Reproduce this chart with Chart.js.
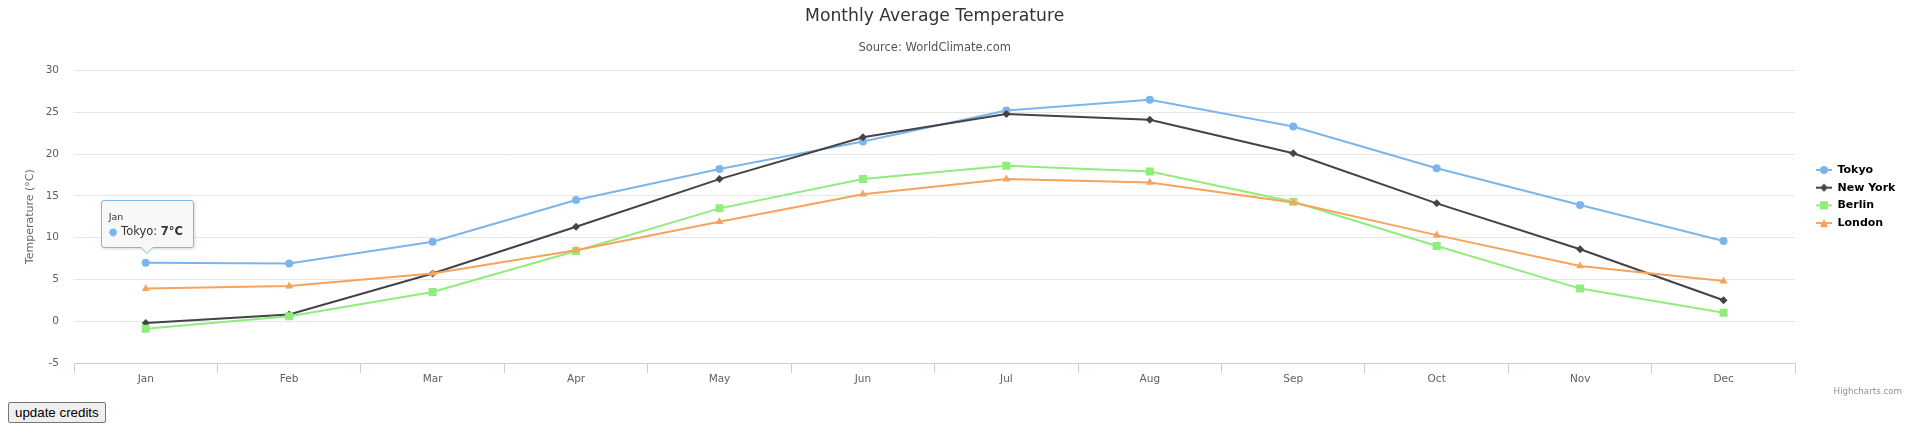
<!DOCTYPE html>
<html>
<head>
<meta charset="utf-8">
<title>Monthly Average Temperature</title>
<script src="https://cdn.jsdelivr.net/npm/chart.js@4.4.1/dist/chart.umd.min.js"></script>
<style>
  html, body { margin: 0; padding: 0; background: #fff; }
  #wrap { position: relative; width: 1909px; height: 437px; overflow: hidden; }
  #chart { position: absolute; left: 0; top: 0; }
  #credits {
    position: absolute; right: 7px; top: 386px;
    font: 8.7px 'DejaVu Sans', sans-serif; color: #909090; line-height: 11px;
  }
  #update {
    position: absolute; left: 8px; top: 402px; height: 21px;
    font: 13.33px 'Liberation Sans', Arial, sans-serif; color: #000;
    background: #efefef; border: 1px solid #767676; border-radius: 2px; padding: 1px 6px;
  }
  #tip {
    position: absolute; box-sizing: border-box; height: 48px;
    padding: 9px 10px 8px 7px; white-space: nowrap;
    background: rgba(247, 247, 247, 0.85); border: 1px solid #7cb5ec; border-radius: 3px;
    box-shadow: 1px 1px 3px rgba(0, 0, 0, 0.15);
    font-family: 'DejaVu Sans', sans-serif; color: #333;
  }
  #tip .head { display: block; font-size: 9.5px; line-height: 13px; }
  #tip .row { display: block; font-size: 11.5px; line-height: 16px; }
  #tip .dot { color: #7cb5ec; font-size: 10px; }
  #tip:before {
    content: ''; position: absolute; left: 50%; bottom: -7px; margin-left: -7px;
    border-style: solid; border-width: 7px 7px 0; border-color: #7cb5ec transparent transparent;
  }
  #tip:after {
    content: ''; position: absolute; left: 50%; bottom: -6px; margin-left: -6px;
    border-style: solid; border-width: 6px 6px 0; border-color: #f7f7f7 transparent transparent;
  }
</style>
</head>
<body>
<div id="wrap">
  <canvas id="chart" width="1909" height="400"></canvas>
  <div id="tip"></div>
  <div id="credits">Highcharts.com</div>
  <button id="update">update credits</button>
</div>
<script>
const months = ['Jan', 'Feb', 'Mar', 'Apr', 'May', 'Jun', 'Jul', 'Aug', 'Sep', 'Oct', 'Nov', 'Dec'];
const tokyo = [7.0, 6.9, 9.5, 14.5, 18.2, 21.5, 25.2, 26.5, 23.3, 18.3, 13.9, 9.6];
const newYork = [-0.2, 0.8, 5.7, 11.3, 17.0, 22.0, 24.8, 24.1, 20.1, 14.1, 8.6, 2.5];
const berlin = [-0.9, 0.6, 3.5, 8.4, 13.5, 17.0, 18.6, 17.9, 14.3, 9.0, 3.9, 1.0];
const london = [3.9, 4.2, 5.7, 8.5, 11.9, 15.2, 17.0, 16.6, 14.2, 10.3, 6.6, 4.8];
const seriesNames = ['Tokyo', 'New York', 'Berlin', 'London'];
const yMin = -5;
const yMax = 30;
const yStep = 5;

const colors = ['#7cb5ec', '#434348', '#90ed7d', '#f7a35c'];
const markers = ['circle', 'rectRot', 'rect', 'triangle'];
const markerSizes = [4, 4, 5.66, 4.6];
const font = "'DejaVu Sans', sans-serif";

// small line + marker picture for each legend entry
function legendIcon(color, style) {
    const c = document.createElement('canvas');
    c.width = 30;
    c.height = 12;
    const g = c.getContext('2d');
    g.strokeStyle = color;
    g.fillStyle = color;
    g.lineWidth = 2;
    g.beginPath();
    g.moveTo(14, 6);
    g.lineTo(30, 6);
    g.stroke();
    const x = 22, y = 6;
    g.beginPath();
    if (style === 'circle') {
        g.arc(x, y, 4, 0, Math.PI * 2);
    } else if (style === 'rectRot') {
        g.moveTo(x, y - 4); g.lineTo(x + 4, y); g.lineTo(x, y + 4); g.lineTo(x - 4, y);
    } else if (style === 'rect') {
        g.rect(x - 4, y - 4, 8, 8);
    } else {
        g.moveTo(x, y - 4); g.lineTo(x + 4, y + 4); g.lineTo(x - 4, y + 4);
    }
    g.closePath();
    g.fill();
    return c;
}

const values = [tokyo, newYork, berlin, london];
const datasets = values.map((data, i) => ({
    label: seriesNames[i],
    data: data,
    borderColor: colors[i],
    backgroundColor: colors[i],
    borderWidth: 2,
    tension: 0,
    pointStyle: markers[i],
    pointRadius: markerSizes[i],
    pointHoverRadius: markerSizes[i],
    pointBorderWidth: 0,
    pointBackgroundColor: colors[i],
    order: values.length - i
}));

const chart = new Chart(document.getElementById('chart').getContext('2d'), {
    type: 'line',
    data: { labels: months, datasets: datasets },
    options: {
        responsive: false,
        animation: false,
        devicePixelRatio: 1,
        events: [],
        layout: { padding: { left: 0, right: 3.6, top: 0, bottom: 7 } },
        plugins: {
            title: {
                display: true,
                text: 'Monthly Average Temperature',
                color: '#333333',
                fullSize: false,
                font: { family: font, size: 17.2, weight: 'normal' },
                padding: { top: 6.5, bottom: 8 }
            },
            subtitle: {
                display: true,
                text: 'Source: WorldClimate.com',
                color: '#555555',
                fullSize: false,
                font: { family: font, size: 11.5 },
                padding: { top: 5.5, bottom: 16 }
            },
            legend: {
                position: 'right',
                labels: {
                    usePointStyle: true,
                    pointStyleWidth: 30,
                    padding: 6.7,
                    color: '#333333',
                    font: { family: font, size: 11, weight: 'bold' },
                    generateLabels: c => c.data.datasets.map((ds, i) => ({
                        text: ds.label,
                        fillStyle: ds.borderColor,
                        strokeStyle: ds.borderColor,
                        lineWidth: 0,
                        pointStyle: legendIcon(ds.borderColor, ds.pointStyle),
                        hidden: false,
                        datasetIndex: i
                    }))
                }
            },
            tooltip: { enabled: false }
        },
        scales: {
            x: {
                offset: true,
                afterFit: scale => { scale.height = 30; },
                grid: {
                    offset: true,
                    drawOnChartArea: false,
                    drawTicks: true,
                    tickLength: 10,
                    color: '#C0D0E0'
                },
                border: { color: '#C0D0E0', width: 1 },
                ticks: {
                    color: '#606060',
                    padding: 0,
                    autoSkip: false,
                    maxRotation: 0,
                    font: { family: font, size: 10.5 }
                }
            },
            y: {
                min: yMin,
                max: yMax,
                afterFit: scale => { scale.width = 74; },
                grid: { color: '#e6e6e6', drawTicks: false },
                border: { display: false },
                ticks: {
                    stepSize: yStep,
                    color: '#606060',
                    padding: 15,
                    font: { family: font, size: 10.5 }
                },
                title: {
                    display: true,
                    text: 'Temperature (°C)',
                    color: '#666666',
                    font: { family: font, size: 11 },
                    padding: { top: 23.4, bottom: 0 }
                }
            }
        }
    }
});

// tooltip box pinned on Tokyo / Jan, placed from the chart's own scales
const tip = document.getElementById('tip');
tip.innerHTML = '<span class="head">' + months[0] + '</span>' +
    '<span class="row"><span class="dot">●</span> ' + seriesNames[0] + ': <b>' + tokyo[0] + '°C</b></span>';
const px = chart.scales.x.getPixelForValue(0);
const py = chart.scales.y.getPixelForValue(tokyo[0]);
tip.style.left = (px - tip.offsetWidth / 2 + 1.5) + 'px';
tip.style.top = (py - 15 - tip.offsetHeight) + 'px';
</script>
</body>
</html>
